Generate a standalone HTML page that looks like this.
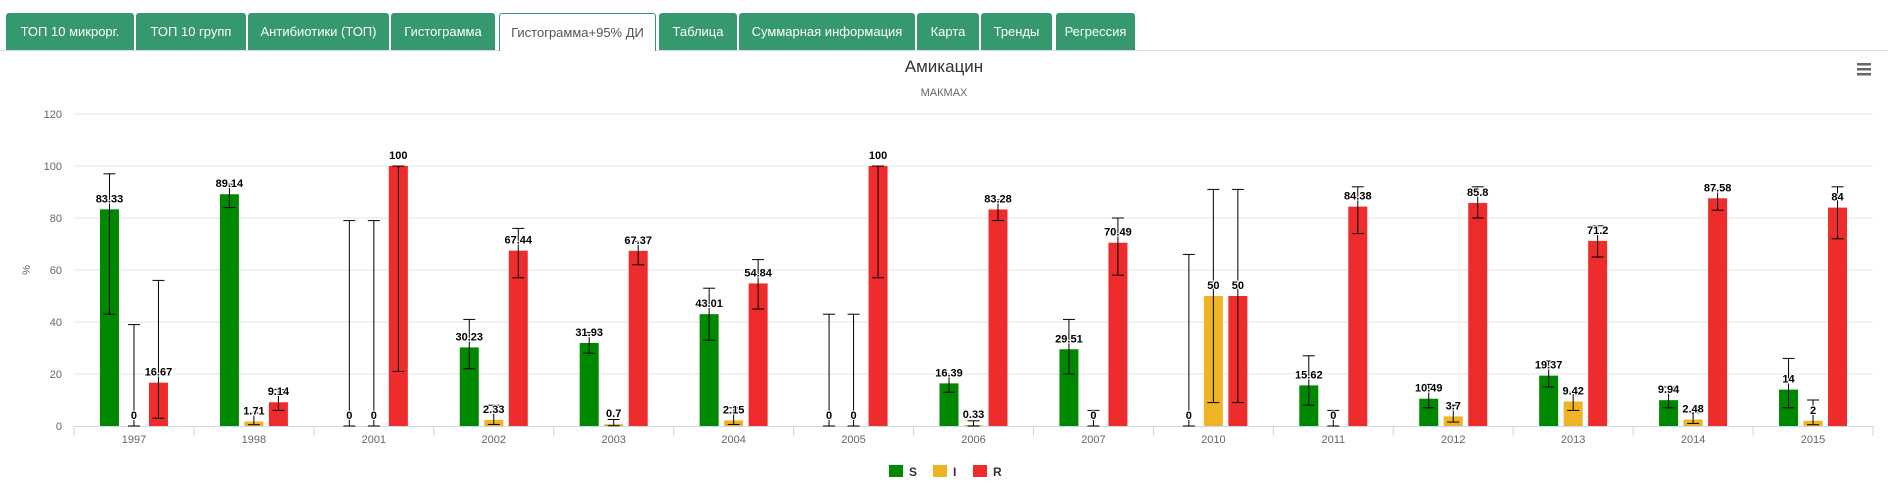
<!DOCTYPE html>
<html><head><meta charset="utf-8">
<style>
body{margin:0;width:1888px;height:494px;background:#fff;font-family:"Liberation Sans",sans-serif;overflow:hidden;position:relative}
.tabs{position:absolute;left:0;top:0;width:1888px;height:50px;border-bottom:1px solid #ddd}
.tab{position:absolute;top:13px;height:37px;background:#35996d;color:#fff;font-size:13px;line-height:37px;text-align:center;border-radius:3px 3px 0 0;font-family:"Liberation Sans Narrow","Liberation Sans",sans-serif}
.tab.active{background:#fff;color:#555;border:1px solid #35996d;border-bottom:none;height:38px;box-sizing:border-box}
</style></head><body>
<div class="tabs">
<div class="tab" style="left:6px;width:128px">ТОП 10 микрорг.</div>
<div class="tab" style="left:136px;width:110px">ТОП 10 групп</div>
<div class="tab" style="left:248px;width:141px">Антибиотики (ТОП)</div>
<div class="tab" style="left:391px;width:104px">Гистограмма</div>
<div class="tab active" style="left:499px;width:157px">Гистограмма+95% ДИ</div>
<div class="tab" style="left:659px;width:78px">Таблица</div>
<div class="tab" style="left:739px;width:176px">Суммарная информация</div>
<div class="tab" style="left:917px;width:62px">Карта</div>
<div class="tab" style="left:981px;width:71px">Тренды</div>
<div class="tab" style="left:1056px;width:79px">Регрессия</div>
</div>
<svg id="chart" width="1888" height="494" style="position:absolute;left:0;top:0">
<text x="944" y="72" text-anchor="middle" font-size="17" fill="#333" font-family="Liberation Sans Narrow, Liberation Sans, sans-serif">Амикацин</text>
<text x="944" y="96" text-anchor="middle" font-size="11" fill="#666">МАКМАХ</text>
<g><rect x="1857" y="63" width="14" height="2.5" fill="#666"/><rect x="1857" y="68" width="14" height="2.5" fill="#666"/><rect x="1857" y="73" width="14" height="2.5" fill="#666"/></g>
<text transform="translate(30,270) rotate(-90)" text-anchor="middle" font-size="11" fill="#666">%</text>
<g id="grid"></g><g id="bars"></g>
<g>
<rect x="889" y="465" width="14" height="12" fill="#008800"/><text x="909" y="476" font-size="12" font-weight="bold" fill="#333">S</text>
<rect x="933" y="465" width="14" height="12" fill="#efb326"/><text x="953" y="476" font-size="12" font-weight="bold" fill="#333">I</text>
<rect x="973" y="465" width="14" height="12" fill="#ee2c2c"/><text x="993" y="476" font-size="12" font-weight="bold" fill="#333">R</text>
</g>
</svg>
<script>
const categories=["1997","1998","2001","2002","2003","2004","2005","2006","2007","2010","2011","2012","2013","2014","2015"];
const sVals=[83.33,89.14,0,30.23,31.93,43.01,0,16.39,29.51,0,15.62,10.49,19.37,9.94,14];
const iVals=[0,1.71,0,2.33,0.7,2.15,0,0.33,0,50,0,3.7,9.42,2.48,2];
const rVals=[16.67,9.14,100,67.44,67.37,54.84,100,83.28,70.49,50,84.38,85.8,71.2,87.58,84];
const sLow=[43,84,0,22,28,33,0,13,20,0,8,7,15,7,7];
const sHigh=[97,93,79,41,36,53,43,20,41,66,27,16,25,15,26];
const iLow=[0,0.5,0,0.6,0.1,0.6,0,0,0,9,0,1.5,6,1,0.5];
const iHigh=[39,5,79,8,2.5,7,43,2,6,91,6,8,13,5,10];
const rLow=[3,6,21,57,62,45,57,79,58,9,74,80,65,83,72];
const rHigh=[56,14,100,76,71,64,100,87,80,91,92,92,77,91,92];
const yTicks=[0,20,40,60,80,100,120];
const NS='http://www.w3.org/2000/svg';
const L=74,R=1873,Y0=426,Y120=114;
const cw=(R-L)/categories.length;
const y=v=>Y0-(v/120)*(Y0-Y120);
const cx=i=>L+cw*(i+0.5);
function mk(tag,at,par){const e=document.createElementNS(NS,tag);for(const k in at)e.setAttribute(k,at[k]);par.appendChild(e);return e;}
const grid=document.getElementById('grid'),bars=document.getElementById('bars');
yTicks.forEach(t=>{
 if(t>0){const g=mk('line',{x1:L,x2:R,y1:y(t),y2:y(t),stroke:'#e6e6e6'},grid);
 
 }
 const tx=mk('text',{x:L-12,y:y(t)+4,'text-anchor':'end','font-size':11,fill:'#666'},grid);tx.textContent=t;
 
 
});
const ax=mk('line',{x1:L,x2:R,y1:Y0+0.5,y2:Y0+0.5,stroke:'#ccd6eb'},grid);


for(let i=0;i<=categories.length;i++){const tk=mk('line',{x1:L+cw*i,x2:L+cw*i,y1:Y0,y2:Y0+10,stroke:'#ccd6eb'},grid);
 
 }
categories.forEach((c,i)=>{const t=mk('text',{x:cx(i),y:Y0+17,'text-anchor':'middle','font-size':11,fill:'#666'},grid);t.textContent=c;
 
 });
const series=[[sVals,sLow,sHigh,'#008800',-24.5,'s'],[iVals,iLow,iHigh,'#efb326',0,'i'],[rVals,rLow,rHigh,'#ee2c2c',24.5,'r']];
series.forEach(([v,lo,hi,col,off,nm])=>{
 v.forEach((val,i)=>{
  const x=cx(i)+off;
  if(val>0){const b=mk('rect',{x:x-9.5,y:y(val),width:19,height:Y0-y(val),fill:col},bars);
   
   }
  const eg=mk('g',{stroke:'#000','stroke-width':1},bars);
  
  
  mk('line',{x1:x,x2:x,y1:y(lo[i]),y2:y(hi[i])},eg);
  mk('line',{x1:x-6,x2:x+6,y1:y(lo[i]),y2:y(lo[i])},eg);
  mk('line',{x1:x-6,x2:x+6,y1:y(hi[i]),y2:y(hi[i])},eg);
  const lb=mk('text',{x:x,y:y(val)-7,'text-anchor':'middle','font-size':11,'font-weight':'bold',fill:'#000',stroke:'#fff','stroke-width':2,'paint-order':'stroke'},bars);
  lb.textContent=val;
  
  
 });
});
</script>
</body></html>
